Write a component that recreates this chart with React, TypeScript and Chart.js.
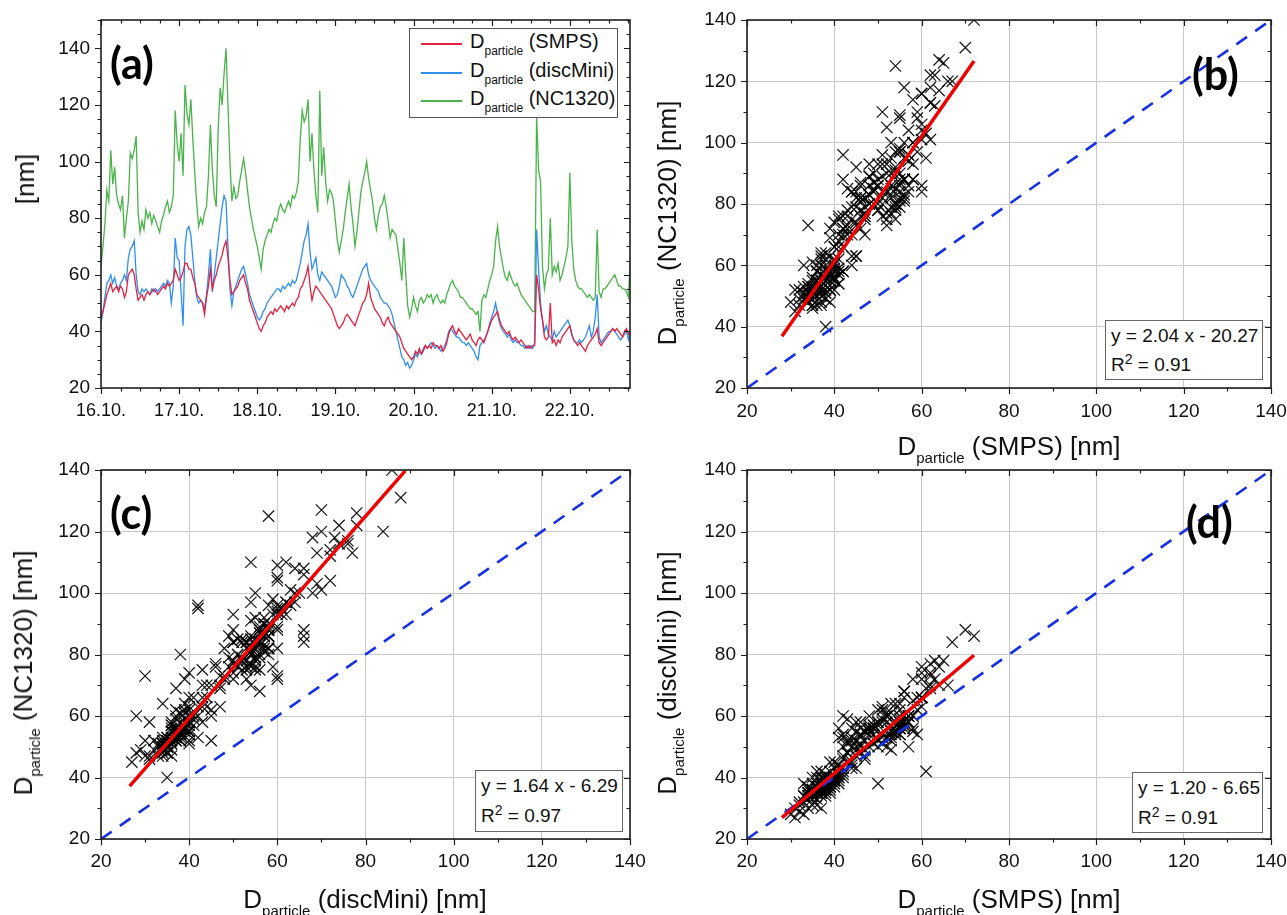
import React, { useEffect, useRef } from 'react';
import { Chart, registerables } from 'chart.js';

Chart.register(...registerables);

const W = 1287;
const H = 915;

// ---------- DATA ----------
const dateLabels = ['16.10.', '17.10.', '18.10.', '19.10.', '20.10.', '21.10.', '22.10.'];
const timeStepDays = 0.025;
const timeMaxDays = 6.77;

const smps = [
  45, 47, 50, 53, 55, 57, 54, 55, 56, 54,
  56, 55, 52, 54, 60, 61, 62, 60, 55, 51,
  52, 53, 51, 53, 54, 53, 54, 55, 54, 53,
  54, 55, 56, 55, 57, 56, 57, 58, 62, 60,
  58, 59, 61, 64, 64, 62, 62, 59, 57, 53,
  52, 51, 50, 46, 52, 56, 62, 55, 58, 60,
  63, 65, 67, 70, 72, 66, 58, 53, 54, 55,
  56, 58, 59, 60, 57, 55, 51, 49, 47, 45,
  43, 41, 40, 42, 43, 45, 46, 47, 46, 48,
  47, 48, 49, 48, 47, 49, 48, 49, 50, 49,
  51, 52, 55, 56, 58, 60, 63, 56, 51, 54,
  56, 55, 54, 53, 52, 51, 50, 49, 48, 46,
  44, 42, 41, 42, 43, 45, 46, 45, 44, 43,
  42, 44, 46, 48, 50, 51, 53, 57, 52, 50,
  48, 47, 46, 45, 43, 42, 44, 45, 43, 42,
  41, 40, 39, 38, 36, 34, 33, 32, 31, 30,
  31, 33, 32, 34, 32, 33, 35, 34, 35, 34,
  36, 35, 35, 34, 35, 33, 34, 36, 39, 41,
  42, 40, 39, 41, 40, 39, 38, 37, 38, 39,
  37, 36, 35, 37, 38, 37, 36, 38, 40, 42,
  44, 45, 46, 47, 44, 42, 41, 40, 39, 40,
  38, 37, 38, 37, 36, 37, 36, 35, 34, 35,
  34, 35, 35, 60, 55, 48, 44, 38, 37, 38,
  50, 36, 37, 35, 37, 36, 38, 39, 40, 41,
  42, 39, 37, 36, 35, 36, 35, 34, 33, 35,
  36, 37, 38, 39, 41, 36, 35, 36, 37, 38,
  39, 40, 41, 40, 41, 40, 39, 38, 40, 41,
  39, 40,
];

const discMini = [
  43, 47, 52, 57, 58, 60, 57, 59, 56, 55,
  57, 58, 60, 58, 66, 69, 70, 72, 60, 54,
  53, 55, 54, 55, 54, 53, 55, 54, 55, 54,
  55, 56, 57, 56, 58, 57, 50, 56, 73, 66,
  65, 54, 42, 70, 76, 77, 74, 66, 58, 52,
  50, 51, 50, 48, 53, 60, 69, 54, 60, 66,
  72, 78, 84, 88, 86, 70, 55, 49, 54, 56,
  58, 60, 62, 63, 60, 57, 53, 51, 49, 47,
  45, 44, 45, 47, 48, 50, 51, 52, 53, 54,
  55, 55, 54, 56, 55, 56, 57, 56, 58, 57,
  58, 61, 64, 68, 72, 74, 78, 68, 62, 64,
  66, 60, 58, 61, 60, 59, 58, 57, 56, 54,
  52, 53, 56, 60, 59, 58, 56, 55, 53, 52,
  54, 56, 58, 60, 62, 63, 64, 60, 58, 57,
  56, 55, 54, 52, 51, 50, 50, 49, 48, 46,
  43, 40, 37, 34, 31, 30, 28, 29, 27, 28,
  30, 32, 31, 33, 32, 34, 35, 34, 35, 36,
  35, 34, 35, 34, 33, 34, 35, 37, 40, 41,
  40, 39, 38, 38, 37, 36, 36, 35, 36, 35,
  34, 33, 31, 30, 35, 36, 37, 38, 40, 43,
  45, 47, 50, 46, 43, 41, 40, 39, 38, 39,
  37, 36, 37, 36, 36, 35, 35, 34, 35, 34,
  35, 34, 36, 76, 62, 50, 44, 40, 42, 39,
  38, 37, 40, 38, 39, 40, 41, 42, 43, 44,
  42, 39, 37, 36, 36, 37, 36, 37, 38, 40,
  42, 38, 40, 45, 53, 38, 36, 37, 38, 39,
  40, 40, 41, 40, 39, 38, 37, 38, 39, 40,
  37, 40,
];

const nc1320 = [
  63, 70, 78, 90, 86, 104, 92, 98, 88, 85,
  83, 88, 73, 80, 86, 103, 101, 104, 109, 82,
  75, 79, 76, 83, 80, 82, 78, 81, 79, 77,
  75, 79, 81, 84, 86, 82, 84, 88, 118, 106,
  100, 110, 95, 127, 117, 113, 122, 108, 96, 85,
  77, 80, 78, 82, 84, 95, 113, 97, 88, 84,
  112, 126, 120, 131, 140, 120, 100, 86, 91, 87,
  88, 93, 97, 101, 96, 90, 84, 80, 76, 73,
  70, 66, 62, 69, 72, 74, 76, 75, 78, 80,
  79, 83, 85, 83, 82, 84, 86, 84, 88, 87,
  89, 93, 108, 118, 114, 116, 122, 100, 110, 97,
  88, 82, 125, 95, 105, 93, 86, 90, 89, 86,
  79, 72, 68, 72, 76, 82, 87, 92, 84, 78,
  70, 75, 82, 89, 93, 96, 100, 94, 90, 86,
  80, 76, 81, 84, 85, 88, 84, 79, 73, 76,
  75, 74, 69, 64, 58, 73, 60, 49, 45, 48,
  52, 49, 47, 51, 52, 50, 51, 53, 52, 53,
  50, 52, 53, 51, 50, 51, 50, 53, 55, 57,
  58, 56, 55, 54, 52, 52, 51, 50, 49, 48,
  48, 47, 46, 47, 40, 51, 53, 52, 55, 58,
  60, 63, 72, 77, 70, 66, 62, 59, 58, 61,
  59, 57, 56, 57, 55, 53, 52, 51, 50, 49,
  48, 47, 47, 116, 97, 93, 63, 55, 60, 62,
  80, 60, 63, 61, 64, 58, 60, 63, 66, 70,
  96, 72, 62, 58, 56, 55, 55, 54, 53, 52,
  53, 52, 51, 52, 76, 54, 52, 55, 55, 56,
  57, 58, 59, 60, 58, 56, 56, 55, 55, 54,
  52, 66,
];

const identityLine = [20, 140];
const fitLineB = [{ x: 28, y: 36.9 }, { x: 72, y: 126.6 }];
const fitLineC = [{ x: 26.5, y: 37.2 }, { x: 89, y: 139.7 }];
const fitLineD = [{ x: 28, y: 26.95 }, { x: 72, y: 79.75 }];
const fitTextB = ['y = 2.04 x - 20.27', '0.91'];
const fitTextC = ['y = 1.64 x - 6.29', '0.97'];
const fitTextD = ['y = 1.20 - 6.65', '0.91'];
const seriesNames = ['(SMPS)', '(discMini)', '(NC1320)'];

// ---------- STYLE ----------
const FONT = "'Liberation Sans', Arial, Helvetica, sans-serif";
const RED = '#e3223f';
const BLUE = '#2f8ff0';
const GREEN = '#49b449';

const frameTicks = {
  id: 'frameTicks',
  afterDraw(chart: any, _args: any, opts: any) {
    const { ctx, chartArea: a } = chart;
    const xs = chart.scales.x;
    const ys = chart.scales.y;
    const majorLen = 6;
    const minorLen = 3.5;
    ctx.save();
    ctx.strokeStyle = '#1e1e1e';
    ctx.lineWidth = 1.2;
    ctx.beginPath();
    const isMajor = (v: number, base: number, step: number) => {
      const r = (v - base) / step;
      return Math.abs(r - Math.round(r)) < 1e-6;
    };
    const nx = Math.floor((xs.max - xs.min) / opts.xMinor + 1e-6);
    for (let k = 0; k <= nx; k++) {
      const v = xs.min + k * opts.xMinor;
      const px = Math.round(xs.getPixelForValue(v)) + 0.5;
      const len = isMajor(v, xs.min, opts.xMajor) ? majorLen : minorLen;
      ctx.moveTo(px, a.bottom);
      ctx.lineTo(px, a.bottom + len);
      ctx.moveTo(px, a.top);
      ctx.lineTo(px, a.top + len);
    }
    const ny = Math.floor((ys.max - ys.min) / opts.yMinor + 1e-6);
    for (let k = 0; k <= ny; k++) {
      const v = ys.min + k * opts.yMinor;
      const py = Math.round(ys.getPixelForValue(v)) + 0.5;
      const len = isMajor(v, ys.min, opts.yMajor) ? majorLen : minorLen;
      ctx.moveTo(a.left - len, py);
      ctx.lineTo(a.left, py);
      ctx.moveTo(a.right - len, py);
      ctx.lineTo(a.right, py);
    }
    ctx.stroke();
    ctx.lineWidth = 1.6;
    ctx.strokeRect(a.left, a.top, a.right - a.left, a.bottom - a.top);
    ctx.restore();
  },
};
Chart.register(frameTicks);

type Frame = { l: number; t: number; r: number; b: number };

const frameA: Frame = { l: 101, t: 20, r: 630, b: 388 };
const frameB: Frame = { l: 747, t: 20, r: 1271, b: 388 };
const frameC: Frame = { l: 101, t: 470, r: 630, b: 839 };
const frameD: Frame = { l: 747, t: 470, r: 1271, b: 839 };

function baseOptions(frame: Frame, xPad: number, ticksOpts: any) {
  return {
    animation: false,
    responsive: false,
    devicePixelRatio: 1,
    events: [],
    layout: { padding: { left: 0, top: frame.t, right: W - frame.r, bottom: 0 } },
    plugins: { legend: { display: false }, tooltip: { enabled: false }, frameTicks: ticksOpts },
    scales: {
      x: {
        type: 'linear',
        afterFit: (s: any) => {
          s.height = H - frame.b;
          s.paddingLeft = 0;
          s.paddingRight = 0;
        },
        border: { display: false },
        ticks: {
          padding: xPad,
          includeBounds: false,
          autoSkip: false,
          maxRotation: 0,
          color: '#111',
          font: { family: FONT, size: 19 },
        },
      },
      y: {
        type: 'linear',
        afterFit: (s: any) => {
          s.width = frame.l;
          s.paddingTop = 0;
          s.paddingBottom = 0;
        },
        border: { display: false },
        ticks: {
          padding: 11,
          includeBounds: false,
          color: '#111',
          font: { family: FONT, size: 19 },
        },
      },
    },
  };
}

function configA() {
  const opts: any = baseOptions(frameA, 12, { xMinor: 0.25, xMajor: 1, yMinor: 5, yMajor: 20 });
  opts.scales.x.min = 0;
  opts.scales.x.max = timeMaxDays;
  opts.scales.x.ticks.stepSize = 1;
  opts.scales.x.ticks.font = { family: FONT, size: 18 };
  opts.scales.x.ticks.callback = (v: number) => dateLabels[Math.round(v)] ?? '';
  opts.scales.x.grid = { display: false, drawTicks: false };
  opts.scales.y.min = 20;
  opts.scales.y.max = 150;
  opts.scales.y.ticks.stepSize = 20;
  opts.scales.y.grid = { display: false, drawTicks: false };
  const toPts = (arr: number[]) => arr.map((v, i) => ({ x: i * timeStepDays, y: v }));
  const ds = (data: number[], color: string, order: number) => ({
    data: toPts(data),
    borderColor: color,
    borderWidth: 1.3,
    pointRadius: 0,
    tension: 0,
    fill: false,
    order,
  });
  return {
    type: 'line',
    data: { datasets: [ds(smps, RED, 0), ds(discMini, BLUE, 1), ds(nc1320, GREEN, 2)] },
    options: opts,
  };
}

function scatterConfig(frame: Frame, xPad: number, xs: number[], ys: number[], fit: { x: number; y: number }[]) {
  const opts: any = baseOptions(frame, xPad, { xMinor: 10, xMajor: 20, yMinor: 10, yMajor: 20 });
  for (const k of ['x', 'y']) {
    opts.scales[k].min = 20;
    opts.scales[k].max = 140;
    opts.scales[k].ticks.stepSize = 20;
    opts.scales[k].grid = { display: true, drawTicks: false, color: '#c9c9c9', lineWidth: 1 };
  }
  return {
    type: 'scatter',
    data: {
      datasets: [
        {
          data: fit,
          showLine: true,
          borderColor: '#f00000',
          borderWidth: 3.5,
          pointRadius: 0,
          order: 0,
        },
        {
          data: [
            { x: identityLine[0], y: identityLine[0] },
            { x: identityLine[1], y: identityLine[1] },
          ],
          showLine: true,
          borderColor: '#1530e8',
          borderWidth: 2.6,
          borderDash: [13, 10],
          pointRadius: 0,
          order: 1,
        },
        {
          data: xs.map((v, i) => ({ x: v, y: ys[i] })),
          pointStyle: 'crossRot',
          pointRadius: 8,
          borderWidth: 1.25,
          borderColor: 'rgba(0,0,0,0.9)',
          backgroundColor: 'rgba(0,0,0,0)',
          showLine: false,
          order: 2,
        },
      ],
    },
    options: opts,
  };
}

function ChartCanvas({ make }: { make: () => any }) {
  const ref = useRef<HTMLCanvasElement>(null);
  useEffect(() => {
    const chart = new Chart(ref.current as HTMLCanvasElement, make());
    return () => chart.destroy();
  }, []);
  return (
    <canvas
      ref={ref}
      width={W}
      height={H}
      style={{ position: 'absolute', left: 0, top: 0, width: W, height: H }}
    />
  );
}

// ---------- TEXT OVERLAYS ----------
const TF = 26;
function DTitle({ rest }: { rest: string }) {
  return (
    <>
      D
      <span style={{ fontSize: 15, position: 'relative', top: 8 }}>particle</span>
      {' ' + rest}
    </>
  );
}

function XTitle({ cx, baseline, rest }: { cx: number; baseline: number; rest: string }) {
  return (
    <div
      style={{
        position: 'absolute',
        left: cx,
        top: baseline - 0.8465 * TF,
        transform: 'translateX(-50%)',
        fontFamily: FONT,
        fontSize: TF,
        lineHeight: `${TF}px`,
        whiteSpace: 'nowrap',
        color: '#111',
      }}
    >
      <DTitle rest={rest} />
    </div>
  );
}

function YTitle({ cx, cy, children }: { cx: number; cy: number; children: any }) {
  return (
    <div
      style={{
        position: 'absolute',
        left: cx,
        top: cy,
        transform: 'translate(-50%, -50%) rotate(-90deg)',
        fontFamily: FONT,
        fontSize: TF,
        lineHeight: `${TF}px`,
        whiteSpace: 'nowrap',
        color: '#111',
      }}
    >
      {children}
    </div>
  );
}

function PanelLabel({ left, cy, text }: { left: number; cy: number; text: string }) {
  return (
    <div
      style={{
        position: 'absolute',
        left,
        top: cy - 25,
        fontFamily: "Lato, 'Open Sans', sans-serif",
        fontWeight: 700,
        fontSize: 43,
        lineHeight: '43px',
        color: '#000',
      }}
    >
      {text}
    </div>
  );
}

function FitBox({ l, t, w, h, lines }: { l: number; t: number; w: number; h: number; lines: string[] }) {
  return (
    <div
      style={{
        position: 'absolute',
        left: l,
        top: t,
        width: w,
        height: h,
        boxSizing: 'border-box',
        border: '1.5px solid #666',
        background: '#fff',
        fontFamily: FONT,
        fontSize: 19,
        lineHeight: `${(h - 2) / 2}px`,
        paddingLeft: 5,
        whiteSpace: 'nowrap',
        color: '#111',
      }}
    >
      <div>{lines[0]}</div>
      <div>
        R<span style={{ fontSize: 14, position: 'relative', top: -7 }}>2</span> = {lines[1]}
      </div>
    </div>
  );
}

function Legend() {
  const colors = [RED, BLUE, GREEN];
  const ys = [15, 44, 72];
  return (
    <div
      style={{
        position: 'absolute',
        left: 409,
        top: 28,
        width: 209,
        height: 90,
        boxSizing: 'border-box',
        border: '1.5px solid #555',
        background: '#fff',
      }}
    >
      {seriesNames.map((name, i) => (
        <React.Fragment key={name}>
          <div
            style={{
              position: 'absolute',
              left: 11,
              top: ys[i] - 1,
              width: 41,
              height: 1.5,
              background: colors[i],
            }}
          />
          <div
            style={{
              position: 'absolute',
              left: 60,
              top: ys[i] - 13,
              fontFamily: FONT,
              fontSize: 20,
              lineHeight: '20px',
              whiteSpace: 'nowrap',
              color: '#111',
            }}
          >
            D<span style={{ fontSize: 12, position: 'relative', top: 7 }}>particle</span> {name}
          </div>
        </React.Fragment>
      ))}
    </div>
  );
}

export default function App() {
  return (
    <div
      style={{
        position: 'fixed',
        left: 0,
        top: 0,
        width: W,
        height: H,
        background: '#fff',
        overflow: 'hidden',
      }}
    >
      <ChartCanvas make={configA} />
      <ChartCanvas make={() => scatterConfig(frameB, 12, smps, nc1320, fitLineB)} />
      <ChartCanvas make={() => scatterConfig(frameC, 11, discMini, nc1320, fitLineC)} />
      <ChartCanvas make={() => scatterConfig(frameD, 11, smps, discMini, fitLineD)} />

      <YTitle cx={25} cy={179}>[nm]</YTitle>
      <YTitle cx={669} cy={223}>
        <DTitle rest="(NC1320) [nm]" />
      </YTitle>
      <YTitle cx={25} cy={673}>
        <DTitle rest="(NC1320) [nm]" />
      </YTitle>
      <YTitle cx={669} cy={673}>
        <DTitle rest="(discMini) [nm]" />
      </YTitle>
      <XTitle cx={1009} baseline={455} rest="(SMPS) [nm]" />
      <XTitle cx={365} baseline={908} rest="(discMini) [nm]" />
      <XTitle cx={1009} baseline={908} rest="(SMPS) [nm]" />

      <Legend />
      <FitBox l={1105} t={320} w={158} h={60} lines={fitTextB} />
      <FitBox l={475} t={770} w={148} h={62} lines={fitTextC} />
      <FitBox l={1132} t={772} w={131} h={61} lines={fitTextD} />

      <PanelLabel left={110} cy={66} text="(a)" />
      <PanelLabel left={1192} cy={77} text="(b)" />
      <PanelLabel left={110} cy={516} text="(c)" />
      <PanelLabel left={1186} cy={525} text="(d)" />
    </div>
  );
}
